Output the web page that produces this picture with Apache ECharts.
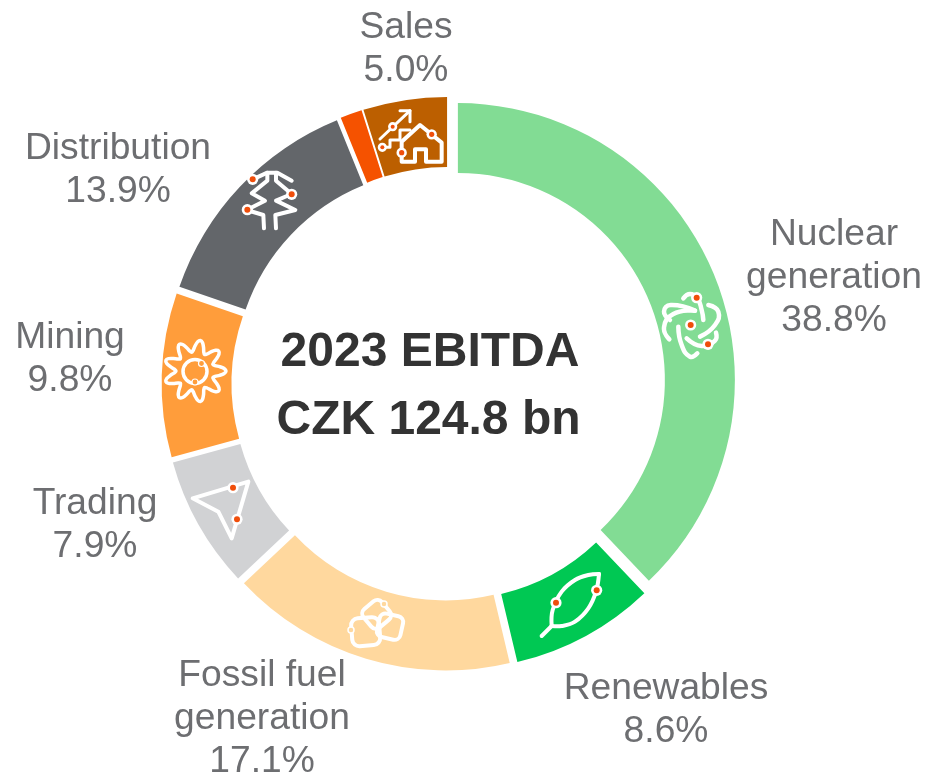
<!DOCTYPE html>
<html>
<head>
<meta charset="utf-8">
<style>html,body{margin:0;padding:0;background:#fff}#c{width:928px;height:775px}</style>
<script src="https://cdn.jsdelivr.net/npm/echarts@6/dist/echarts.min.js"></script>
</head>
<body>
<div id="c"></div>
<script>
const segmentNames = ['Nuclear\ngeneration', 'Renewables', 'Fossil fuel\ngeneration', 'Trading', 'Mining', 'Distribution', 'Other', 'Sales'];
const segmentValues = [38.8, 8.6, 17.1, 7.9, 9.8, 13.9, 1.3, 5.0];
const segmentColors = ['#82DC94', '#00C853', '#FFD89E', '#D1D2D4', '#FF9D3B', '#63666A', '#F55200', '#BC5F00'];
const labelledSegments = [true, true, true, true, true, true, false, true];
const labelAnchors = [[834, 278], [666, 710], [262, 719], [95, 525], [70, 359], [118, 170], [0, 0], [406, 49]];
const centerLines = ['2023 EBITDA', 'CZK 124.8 bn'];

const WHITE = '#fff', DOT = '#F04E0B';
const LABEL_FONT = '37.2px "Liberation Sans", Arial, sans-serif';
function z(ox, oy, pts) { return pts.map(p => [ox + p[0] / 3, oy + p[1] / 3]); }
function line(ox, oy, pts, smooth, w) {
  return { type: 'polyline', z: 10, shape: { points: z(ox, oy, pts), smooth: smooth || 0 },
    style: { stroke: WHITE, lineWidth: w || 3.5, fill: null, lineCap: 'round', lineJoin: 'round' } };
}
function poly(ox, oy, pts, w) {
  return { type: 'polygon', z: 10, shape: { points: z(ox, oy, pts) },
    style: { stroke: WHITE, lineWidth: w || 3.5, fill: 'transparent', lineJoin: 'round' } };
}
function dot(ox, oy, p, r) {
  const q = z(ox, oy, [p])[0];
  return [
    { type: 'circle', z: 11, shape: { cx: q[0], cy: q[1], r: (r || 3) + 2.6 }, style: { fill: WHITE } },
    { type: 'circle', z: 12, shape: { cx: q[0], cy: q[1], r: r || 3 }, style: { fill: DOT } }
  ];
}
function square(ox, oy, c, s, rot, corner) {
  const q = z(ox, oy, [c])[0];
  return { type: 'rect', z: 10, x: q[0], y: q[1], rotation: rot,
    shape: { x: -s / 2, y: -s / 2, width: s, height: s, r: corner },
    style: { stroke: WHITE, lineWidth: 4, fill: 'transparent' } };
}
const gearPts = [];
for (let i = 0; i < 72; i++) {
  const a = i / 72 * Math.PI * 2;
  const rr = 25 + 6 * Math.cos(a * 9);
  gearPts.push([195 + rr * Math.cos(a), 371 + rr * Math.sin(a)]);
}
const icons = [
  // nuclear
  line(640, 270, [[130, 85], [150, 72], [172, 85], [185, 120], [190, 150]], 0.5, 4.5),
  line(640, 270, [[205, 105], [235, 125], [225, 165], [180, 200]], 0.5, 4.5),
  line(640, 270, [[140, 205], [185, 228], [225, 212], [228, 188]], 0.5, 4.5),
  line(640, 270, [[115, 170], [125, 225], [150, 260], [172, 250]], 0.5, 4.5),
  line(640, 270, [[88, 208], [72, 172], [100, 132], [165, 122]], 0.5, 4.5),
  line(640, 270, [[90, 150], [72, 125], [92, 105], [165, 122]], 0.5, 4.5),
  ...dot(640, 270, [170, 83]), ...dot(640, 270, [204, 223]), ...dot(640, 270, [152, 165]),
  // leaf
  line(520, 550, [[65, 258], [95, 228]], 0, 4),
  line(520, 550, [[95, 228], [98, 180], [125, 125], [165, 90], [205, 75], [237, 72]], 0.4, 4),
  line(520, 550, [[237, 72], [228, 125], [205, 175], [165, 215], [125, 228], [95, 228]], 0.4, 4),
  ...dot(520, 550, [108, 158]), ...dot(520, 550, [230, 121]),
  // coal
  square(330, 580, [107, 155], 28, 0.08, 7),
  square(330, 580, [140, 103], 24, 0.7, 6),
  square(330, 580, [180, 140], 24, -0.22, 6),
  { type: 'circle', z: 11, shape: { cx: 351, cy: 630, r: 3 }, style: { stroke: WHITE, lineWidth: 1.5, fill: '#FFD89E' } },
  { type: 'circle', z: 11, shape: { cx: 384, cy: 604, r: 3 }, style: { stroke: WHITE, lineWidth: 1.5, fill: '#FFD89E' } },
  // trading
  poly(170, 330, [[68, 505], [235, 455], [185, 625], [145, 545]], 4),
  ...dot(170, 330, [189, 473]), ...dot(170, 330, [201, 568]),
  // mining
  { type: 'polygon', z: 10, shape: { points: gearPts, smooth: 0.3 }, style: { stroke: WHITE, lineWidth: 3.5, fill: 'transparent' } },
  { type: 'circle', z: 10, shape: { cx: 195, cy: 371.5, r: 12 }, style: { stroke: WHITE, lineWidth: 3.5, fill: 'transparent' } },
  { type: 'circle', z: 11, shape: { cx: 201.5, cy: 363.5, r: 3 }, style: { stroke: WHITE, lineWidth: 1.2, fill: '#FF9D3B' } },
  { type: 'circle', z: 11, shape: { cx: 195, cy: 382, r: 3 }, style: { stroke: WHITE, lineWidth: 1.2, fill: '#FF9D3B' } },
  // distribution
  line(220, 160, [[98, 58], [142, 38], [172, 38], [215, 62]], 0, 4),
  line(220, 160, [[142, 38], [142, 62], [95, 100], [135, 122], [80, 150], [130, 165], [132, 205]], 0, 4),
  line(220, 160, [[168, 38], [168, 62], [215, 102], [168, 122], [226, 150], [166, 165], [168, 205]], 0, 4),
  ...dot(220, 160, [98, 58]), ...dot(220, 160, [215, 103]), ...dot(220, 160, [82, 149]),
  // sales
  line(320, 90, [[180, 147], [270, 62]], 0, 3),
  line(320, 90, [[240, 62], [270, 62], [270, 95]], 0, 3),
  line(320, 90, [[187, 172], [210, 172], [210, 150], [240, 150], [240, 120], [270, 120]], 0, 3),
  poly(320, 90, [[245, 155], [300, 105], [365, 158], [365, 215], [318, 215], [318, 178], [285, 178], [285, 215], [245, 215]], 4),
  ...dot(320, 90, [218, 110], 2), ...dot(320, 90, [187, 172], 2), ...dot(320, 90, [245, 188], 2.6), ...dot(320, 90, [335, 133], 2.6)
];

const labelTexts = segmentNames.map((n, i) => labelledSegments[i] ? {
  type: 'text', z: 20, x: labelAnchors[i][0], y: labelAnchors[i][1],
  style: {
    text: n + '\n' + segmentValues[i].toFixed(1) + '%',
    fill: '#6D6E71', font: LABEL_FONT, lineHeight: 43,
    align: 'center', verticalAlign: 'middle'
  }
} : null).filter(Boolean);

const chart = echarts.init(document.getElementById('c'), null, { renderer: 'canvas' });
chart.setOption({
  animation: false,
  backgroundColor: '#fff',
  series: [{
    type: 'pie',
    center: [448.6, 383.8],
    radius: [207, 277],
    startAngle: 90,
    clockwise: true,
    silent: true,
    sort: null,
    selectedMode: 'multiple',
    selectedOffset: 10,
    emphasis: { disabled: true },
    label: { show: false },
    labelLine: { show: false },
    data: segmentNames.map((n, i) => ({
      name: n,
      value: segmentValues[i],
      selected: true,
      itemStyle: { color: segmentColors[i], borderWidth: 0 }
    }))
  }],
  graphic: { elements: [
    ...icons,
    ...labelTexts,
    { type: 'text', x: 430, y: 353, z: 20, style: { text: centerLines[0], fill: '#333333', font: 'bold 48px "Liberation Sans", Arial, sans-serif', align: 'center', verticalAlign: 'middle' } },
    { type: 'text', x: 428.5, y: 421, z: 20, style: { text: centerLines[1], fill: '#333333', font: 'bold 48px "Liberation Sans", Arial, sans-serif', align: 'center', verticalAlign: 'middle' } }
  ] }
});
</script>
</body>
</html>
